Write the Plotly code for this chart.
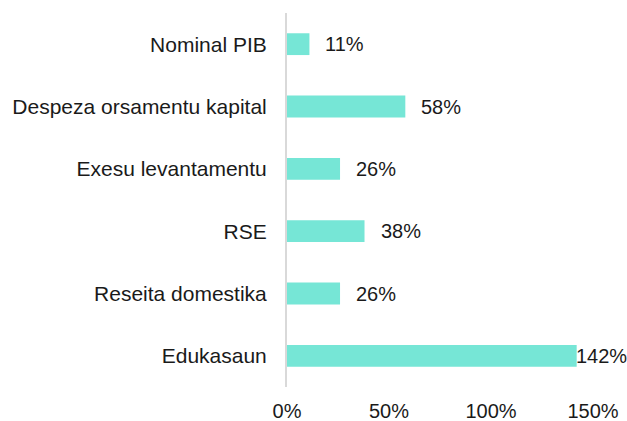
import plotly.graph_objects as go

categories = ["Nominal PIB", "Despeza orsamentu kapital", "Exesu levantamentu",
              "RSE", "Reseita domestika", "Edukasaun"]
values = [11, 58, 26, 38, 26, 142]
label_texts = ["11%", "58%", "26%", "38%", "26%", "142%"]
x_ticks = [0, 50, 100, 150]
x_tick_labels = ["0%", "50%", "100%", "150%"]

FONT = "Liberation Sans, Arial, sans-serif"
BAR = "#76E6D6"
CAT_FS = 21
NUM_FS = 20

fig = go.Figure()
fig.add_trace(go.Bar(
    y=categories, x=values, orientation="h",
    marker=dict(color=BAR, line=dict(width=0)),
    width=0.35, hoverinfo="skip",
))

for c, v, t in zip(categories, values, label_texts):
    fig.add_annotation(x=v, y=c, text=t, showarrow=False, xanchor="left",
                       xshift=(-3 if v > 130 else 14),
                       font=dict(family=FONT, size=NUM_FS, color="#1a1a1a"))

fig.update_layout(
    width=627, height=421,
    margin=dict(l=287, r=34, t=13, b=34, autoexpand=False),
    paper_bgcolor="white", plot_bgcolor="white",
    showlegend=False,
    font=dict(family=FONT, size=CAT_FS, color="#1a1a1a"),
    xaxis=dict(range=[0, 150], tickvals=x_ticks, ticktext=x_tick_labels,
               tickfont=dict(family=FONT, size=NUM_FS, color="#1a1a1a"),
               showgrid=False, zeroline=False, showline=False, ticks="",
               ticklabelstandoff=10, automargin=False, fixedrange=True),
    yaxis=dict(categoryorder="array", categoryarray=categories[::-1],
               autorange=False, range=[-0.5, 5.5],
               tickfont=dict(family=FONT, size=CAT_FS, color="#1a1a1a"),
               showgrid=False, zeroline=False, showline=True,
               linecolor="#d9d9d9", linewidth=2, ticks="",
               ticklabelstandoff=14, automargin=False, fixedrange=True),
)

fig.write_html("out.html",
               config={"displayModeBar": False, "staticPlot": True},
               post_script="document.body.style.margin='0';document.body.style.overflow='hidden';")
